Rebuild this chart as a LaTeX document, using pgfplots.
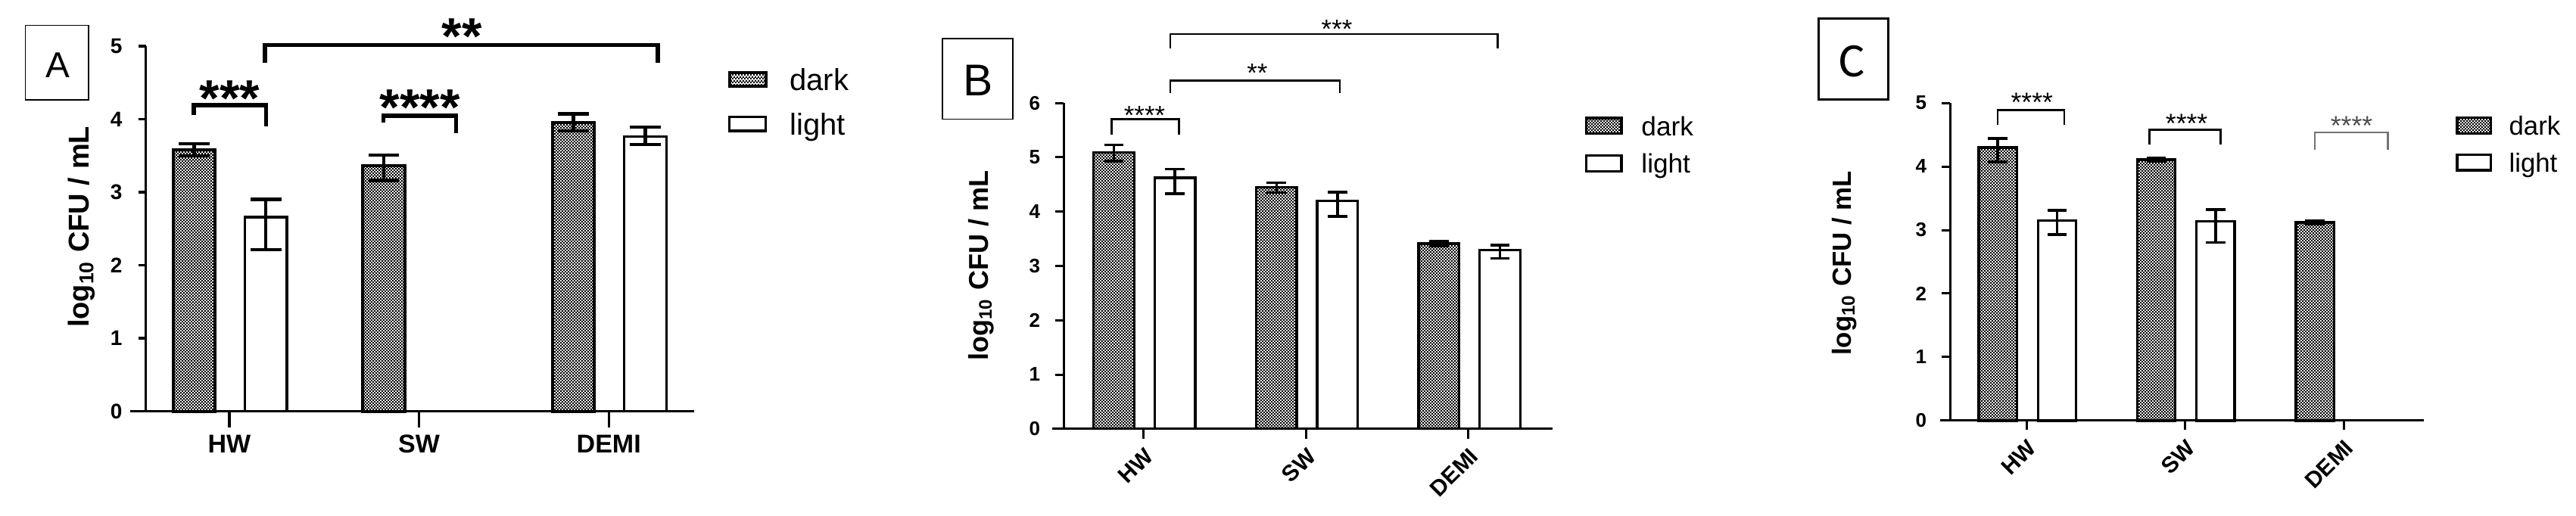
\documentclass[border=0pt]{standalone}
\usepackage{fontspec}
\setmainfont{Liberation Sans}
\newfontfamily\carlito{Carlito}
\usepackage{pgfplots}
\pgfplotsset{compat=1.18}
\usetikzlibrary{patterns}
\pgfdeclarepatternformonly{checker}{\pgfqpoint{0pt}{0pt}}{\pgfqpoint{1.1pt}{1.1pt}}{\pgfqpoint{1.1pt}{1.1pt}}{%
  \pgfpathrectangle{\pgfqpoint{0pt}{0pt}}{\pgfqpoint{0.55pt}{0.55pt}}%
  \pgfpathrectangle{\pgfqpoint{0.55pt}{0.55pt}}{\pgfqpoint{0.55pt}{0.55pt}}%
  \pgfusepath{fill}}
\newcommand{\fs}[1]{\fontsize{#1}{#1}\selectfont}
\newcommand{\ylab}{log\textsubscript{10} CFU / mL}

\pgfplotsset{
  panel/.style={
    scale only axis, anchor=south west,
    axis x line=bottom, axis y line=left,
    axis line style={-, line width=0.85pt, black},
    enlargelimits=false, ymin=0,
    xtick={0,1,2}, xticklabels={HW,SW,DEMI},
    tick align=outside,
    major tick style={line width=0.85pt, black},
    ybar, clip=false,
    /pgf/number format/assume math mode=true,
    legend cell align=left,
    every axis y label/.style={rotate=90, anchor=south, inner sep=0pt},
    error bars/y dir=both, error bars/y explicit,
  },
  legA/.style={legend image code/.code={\draw[##1] (0pt,-2.3pt) rectangle (12pt,2.3pt);}},
  legB/.style={legend image code/.code={\draw[##1] (0pt,-2.6pt) rectangle (11.6pt,2.6pt);}},
  legC/.style={legend image code/.code={\draw[##1] (0pt,-2.6pt) rectangle (11.1pt,2.6pt);}},
}

\begin{document}
\begin{tikzpicture}
\path[use as bounding box] (0,0) rectangle (850.75pt,170.5pt);

% ---------------- Panel A ----------------
\draw[line width=0.45pt] (8.375pt,137.55pt) rectangle (29.15pt,162.125pt);
\node[inner sep=0pt, font=\fs{11.9}] at (18.975pt,148.85pt) {A};

\begin{axis}[panel,
  at={(48.175pt,34.575pt)}, width=181.075pt, height=120.7pt,
  xmin=-0.4402, xmax=2.450, ymax=5, ytick={0,1,2,3,4,5},
  bar width=13.9pt,
  xtick style={/pgfplots/major tick length=5.25pt},
  ytick style={/pgfplots/major tick length=2.5pt},
  yticklabel style={font=\bfseries\fs{7}},
  xticklabel style={font=\bfseries\fs{8.5}},
  ylabel={\ylab}, ylabel style={at={(axis description cs:-0.092,0.505)}, font=\bfseries\fs{9.5}},
  legend style={at={(1.0607,0.9401)}, anchor=north west, draw=none, fill=none, inner sep=0pt,
    row sep=7.45pt, font=\fs{10}, nodes={inner sep=0pt, text depth=0pt},
    /tikz/every odd column/.append style={column sep=7.4pt}},
  error bars/error bar style={line width=1.1pt, black},
  error bars/error mark options={rotate=90, line width=1.1pt, black, mark size=5.1pt},
]
\addplot[draw=black, line width=1pt, pattern=checker, pattern color=black, bar shift=-11.65pt, legA]
  coordinates {(0,3.58) += (0,0.08) -= (0,0.08)
               (1,3.36) += (0,0.15) -= (0,0.20)
               (2,3.95) += (0,0.12) -= (0,0.11)};
\addplot[draw=black, line width=0.85pt, fill=white, bar shift=12.05pt, legA]
  coordinates {(0,2.66) += (0,0.24) -= (0,0.45)
               (2,3.76) += (0,0.13) -= (0,0.11)};
\legend{dark,light}
\draw[line width=0.85pt] (axis cs:-0.5228,0) -- (axis cs:-0.4402,0);
\draw[line width=1.3pt] (axis cs:-0.188,4.056) -- (axis cs:-0.188,4.191) -- (axis cs:0.1935,4.191) -- (axis cs:0.1935,3.896);
\draw[line width=1.3pt] (axis cs:0.8129,3.955) -- (axis cs:0.8129,4.046) -- (axis cs:1.1947,4.046) -- (axis cs:1.1947,3.808);
\draw[line width=1.3pt] (axis cs:0.1876,4.775) -- (axis cs:0.1876,5.013) -- (axis cs:2.2586,5.013) -- (axis cs:2.2586,4.766);
\node[anchor=base, inner sep=0pt, font=\bfseries\fs{17}] at (axis cs:0.0024,4.042) {***};
\node[anchor=base, inner sep=0pt, font=\bfseries\fs{17}] at (axis cs:1.004,3.915) {****};
\node[anchor=base, inner sep=0pt, font=\bfseries\fs{17}] at (axis cs:1.225,4.885) {**};
\end{axis}

% ---------------- Panel B ----------------
\draw[line width=0.45pt] (311.25pt,131.125pt) rectangle (334.5pt,157.75pt);
\node[inner sep=0pt, font=\fs{14.7}] at (323pt,144pt) {B};

\begin{axis}[panel,
  at={(351.325pt,28.8pt)}, width=161.525pt, height=107.675pt,
  xmin=-0.490, xmax=2.519, ymax=6, ytick={0,1,2,3,4,5,6},
  bar width=13.4pt,
  axis line style={line width=0.75pt},
  major tick style={line width=0.75pt},
  xtick style={/pgfplots/major tick length=3.25pt},
  ytick style={/pgfplots/major tick length=2.75pt},
  yticklabel style={font=\bfseries\fs{6.5}},
  xticklabel style={font=\bfseries\fs{7.5}, rotate=45, anchor=north east, inner sep=1pt},
  ylabel={\ylab}, ylabel style={at={(axis description cs:-0.141,0.501)}, font=\bfseries\fs{9}},
  legend style={at={(1.0644,0.9614)}, anchor=north west, draw=none, fill=none, inner sep=0pt,
    row sep=6pt, font=\fs{8.8}, nodes={inner sep=0pt, text depth=0pt},
    /tikz/every odd column/.append style={column sep=6.2pt}},
  error bars/error bar style={line width=0.85pt, black},
  error bars/error mark options={rotate=90, line width=0.85pt, black, mark size=3.2pt},
]
\addplot[draw=black, line width=0.85pt, pattern=checker, pattern color=black, bar shift=-9.75pt, legB]
  coordinates {(0,5.09) += (0,0.14) -= (0,0.16)
               (1,4.45) += (0,0.08) -= (0,0.10)
               (2,3.41) += (0,0.05) -= (0,0.05)};
\addplot[draw=black, line width=0.85pt, fill=white, bar shift=10.4pt, legB]
  coordinates {(0,4.62) += (0,0.16) -= (0,0.29)
               (1,4.20) += (0,0.16) -= (0,0.29)
               (2,3.29) += (0,0.09) -= (0,0.15)};
\legend{dark,light}
\draw[line width=0.75pt] (axis cs:-0.561,0) -- (axis cs:-0.490,0);
\draw[line width=0.65pt] (axis cs:-0.196,5.412) -- (axis cs:-0.196,5.702) -- (axis cs:0.219,5.702) -- (axis cs:0.219,5.412);
\draw[line width=0.65pt] (axis cs:0.1644,6.183) -- (axis cs:0.1644,6.411) -- (axis cs:1.2075,6.411) -- (axis cs:1.2075,6.183);
\draw[line width=0.65pt] (axis cs:0.1644,6.999) -- (axis cs:0.1644,7.272) -- (axis cs:2.178,7.272) -- (axis cs:2.178,6.999);
\node[anchor=base, inner sep=0pt, font=\fs{8.7}] at (axis cs:0.007,5.606) {****};
\node[anchor=base, inner sep=0pt, font=\fs{8.7}] at (axis cs:0.70,6.389) {**};
\node[anchor=base, inner sep=0pt, font=\fs{8.7}] at (axis cs:1.19,7.197) {***};
\end{axis}

% ---------------- Panel C ----------------
\draw[line width=0.75pt] (600.5pt,137.5pt) rectangle (623.5pt,164.25pt);
\node[inner sep=0pt, font=\carlito\fs{15.9}] at (611.65pt,150.125pt) {C};

\begin{axis}[panel,
  at={(644.05pt,31.525pt)}, width=156.35pt, height=104.95pt,
  xmin=-0.481, xmax=2.504, ymax=5, ytick={0,1,2,3,4,5},
  bar width=12.6pt,
  axis line style={line width=0.75pt},
  major tick style={line width=0.75pt},
  xtick style={/pgfplots/major tick length=3pt},
  ytick style={/pgfplots/major tick length=2.75pt},
  yticklabel style={font=\bfseries\fs{6.5}},
  xticklabel style={font=\bfseries\fs{7.5}, rotate=45, anchor=north east, inner sep=1pt},
  ylabel={\ylab}, ylabel style={at={(axis description cs:-0.196,0.495)}, font=\bfseries\fs{8.7}},
  legend style={at={(1.067,0.9602)}, anchor=north west, draw=none, fill=none, inner sep=0pt,
    row sep=5.8pt, font=\fs{8.7}, nodes={inner sep=0pt, text depth=0pt},
    /tikz/every odd column/.append style={column sep=5.6pt}},
  error bars/error bar style={line width=0.85pt, black},
  error bars/error mark options={rotate=90, line width=0.85pt, black, mark size=3.2pt},
]
\addplot[draw=black, line width=0.85pt, pattern=checker, pattern color=black, bar shift=-9.5pt, legC]
  coordinates {(0,4.30) += (0,0.14) -= (0,0.23)
               (1,4.11) += (0,0.03) -= (0,0.03)
               (2,3.12) += (0,0.03) -= (0,0.03)};
\addplot[draw=black, line width=0.85pt, fill=white, bar shift=10.1pt, legC]
  coordinates {(0,3.15) += (0,0.16) -= (0,0.22)
               (1,3.14) += (0,0.18) -= (0,0.34)};
\legend{dark,light}
\draw[line width=0.75pt] (axis cs:-0.544,0) -- (axis cs:-0.481,0);
\draw[line width=0.65pt] (axis cs:-0.182,4.652) -- (axis cs:-0.182,4.886) -- (axis cs:0.2387,4.886) -- (axis cs:0.2387,4.652);
\draw[line width=0.65pt] (axis cs:0.7747,4.341) -- (axis cs:0.7747,4.575) -- (axis cs:1.2253,4.575) -- (axis cs:1.2253,4.341);
\draw[line width=0.65pt, black!55] (axis cs:1.8186,4.263) -- (axis cs:1.8186,4.538) -- (axis cs:2.2802,4.538) -- (axis cs:2.2802,4.263);
\node[anchor=base, inner sep=0pt, font=\fs{8.9}] at (axis cs:0.035,4.861) {****};
\node[anchor=base, inner sep=0pt, font=\fs{8.9}] at (axis cs:1.01,4.534) {****};
\node[anchor=base, inner sep=0pt, font=\fs{8.9}, text=black!70] at (axis cs:2.05,4.497) {****};
\end{axis}
\end{tikzpicture}
\end{document}
